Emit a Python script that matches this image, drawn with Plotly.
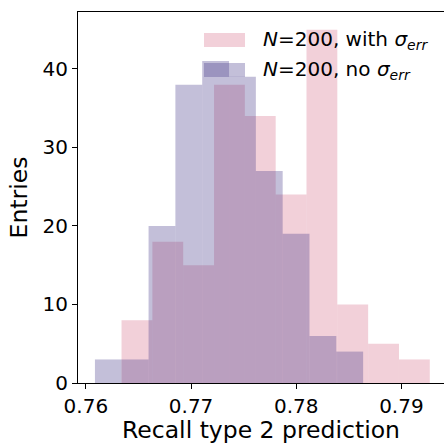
import numpy as np
import plotly.graph_objects as go

# Data
with_err_counts = [8, 18, 15, 38, 34, 24, 45, 10, 5, 3]
with_err_range = (0.76339, 0.79270)
no_err_counts = [3, 3, 20, 38, 41, 39, 27, 19, 6, 4]
no_err_range = (0.76086, 0.78636)
x_ticks = [0.76, 0.77, 0.78, 0.79]
y_ticks = [0, 10, 20, 30, 40]
labels = ["<i>N</i>=200, with <i>σ</i><sub><i>err</i></sub>",
          "<i>N</i>=200, no <i>σ</i><sub><i>err</i></sub>"]

PINK = "rgba(215,112,140,0.33)"
PURPLE = "rgba(72,61,139,0.33)"


def edges(rng, n):
    return np.linspace(rng[0], rng[1], n + 1)


fig = go.Figure()
for counts, rng, col, name in [
    (with_err_counts, with_err_range, PINK, labels[0]),
    (no_err_counts, no_err_range, PURPLE, labels[1]),
]:
    e = edges(rng, len(counts))
    fig.add_trace(go.Bar(
        x=e[:-1], y=counts, width=np.diff(e), offset=0,
        marker=dict(color=col, line=dict(width=0)),
        name=name, showlegend=False,
    ))

fig.update_layout(
    barmode="overlay",
    width=444, height=444,
    margin=dict(l=78, r=0, t=12, b=61),
    paper_bgcolor="white", plot_bgcolor="white",
    font=dict(family="DejaVu Sans", size=20, color="black"),
    showlegend=False,
)
fig.update_xaxes(
    range=[0.75925, 0.79405], tickvals=x_ticks, tickformat=".2f",
    ticks="outside", ticklen=5, tickwidth=1, tickcolor="black",
    tickfont=dict(size=20),
    showline=True, linecolor="black", linewidth=1, mirror=True,
    showgrid=False, zeroline=False,
    title=dict(text="Recall type 2 prediction", font=dict(size=23.5), standoff=6),
)
fig.update_yaxes(
    range=[0, 47.25], tickvals=y_ticks,
    ticks="outside", ticklen=5, tickwidth=1, tickcolor="black",
    tickfont=dict(size=20),
    showline=True, linecolor="black", linewidth=1,
    showgrid=False, zeroline=False,
    title=dict(text="Entries", font=dict(size=23.5), standoff=8),
)

# legend (matplotlib style, no frame)
W, H = 444, 444
l, r, t, b = 78, 0, 12, 61
pw, ph = W - l - r, H - t - b


def px2paper(x, y):
    return (x - l) / pw, 1 - (y - t) / ph


for i, (col, lab) in enumerate([(PINK, labels[0]), (PURPLE, labels[1])]):
    yc = 40 + i * 30
    x0, y0 = px2paper(204, yc - 7)
    x1, y1 = px2paper(245, yc + 7)
    fig.add_shape(type="rect", xref="paper", yref="paper",
                  x0=x0, x1=x1, y0=y1, y1=y0,
                  fillcolor=col, line=dict(width=0), layer="above")
    tx, ty = px2paper(261, yc)
    fig.add_annotation(xref="paper", yref="paper", x=tx, y=ty,
                       text=lab, showarrow=False, xanchor="left",
                       yanchor="middle", font=dict(size=20))

fig.write_html("out.html")
